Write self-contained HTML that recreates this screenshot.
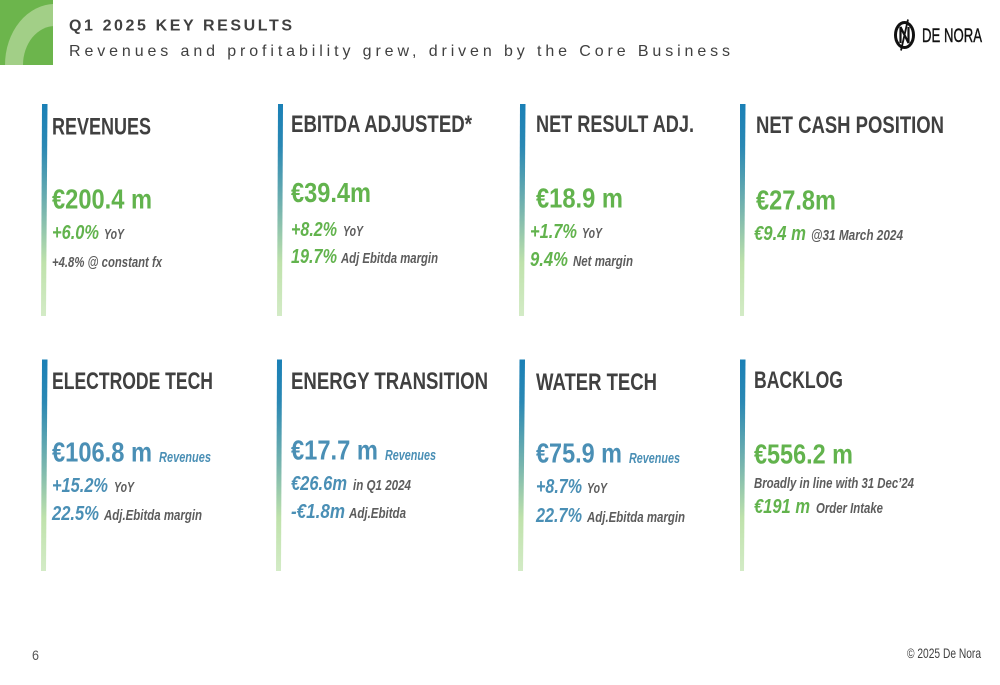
<!DOCTYPE html>
<html lang="en">
<head>
<meta charset="utf-8">
<title>Q1 2025 Key Results</title>
<style>
html,body{margin:0;padding:0;background:#fff;width:1000px;height:685px;overflow:hidden}
svg{display:block}
text{font-family:"Liberation Sans",sans-serif}
.h{font-size:24px;font-weight:700;fill:#404040}
.g{font-size:28px;font-weight:700;fill:#62b34d;transform:translateY(-0.5px)}
.b{font-size:28px;font-weight:700;fill:#4a8fb5;transform:translateY(-0.5px)}
.gi{font-size:20.5px;font-weight:700;font-style:italic;fill:#62b34d}
.bi{font-size:20.5px;font-weight:700;font-style:italic;fill:#4a8fb5}
.s{font-size:15px;font-weight:700;font-style:italic;fill:#5c5c5c}
.r{font-size:15px;font-weight:700;font-style:italic;fill:#4a8fb5}
</style>
</head>
<body>
<svg xmlns="http://www.w3.org/2000/svg" width="1000" height="685" viewBox="0 0 1000 685">
<defs>
<linearGradient id="barGrad" x1="0" y1="0" x2="0" y2="1">
<stop offset="0" stop-color="#1a80b6"/>
<stop offset="0.2" stop-color="#2a88b4"/>
<stop offset="0.5" stop-color="#78b5ae"/>
<stop offset="0.75" stop-color="#bfe2ab"/>
<stop offset="1" stop-color="#d3ebc6"/>
</linearGradient>
<clipPath id="cornerClip"><rect x="0" y="0" width="53" height="65"/></clipPath>
</defs>
<rect x="0" y="0" width="1000" height="685" fill="#ffffff"/>

<g clip-path="url(#cornerClip)">
<rect x="0" y="0" width="53" height="65" fill="#6cb54c"/>
<ellipse cx="55" cy="65" rx="50" ry="61" fill="#a2cf87"/>
<ellipse cx="55" cy="65" rx="32" ry="39" fill="#6cb54c"/>
</g>

<text x="69" y="30.5" font-size="16" font-weight="700" fill="#404040" textLength="223" lengthAdjust="spacing">Q1 2025 KEY RESULTS</text>
<text x="69" y="56" font-size="16" fill="#404040" textLength="661" lengthAdjust="spacing">Revenues and profitability grew, driven by the Core Business</text>

<g>
<ellipse cx="904.5" cy="35" rx="9" ry="12.5" fill="none" stroke="#111" stroke-width="3"/>
<path d="M900.5 43V27L908.5 43V27" fill="none" stroke="#111" stroke-width="2.2"/>
<path d="M908 19.5L901 50.5" fill="none" stroke="#111" stroke-width="1.8"/>
<text x="922" y="42" font-size="19" fill="#111" stroke="#111" stroke-width="0.4" textLength="60" lengthAdjust="spacingAndGlyphs">DE NORA</text>
</g>

<g>
<polygon points="42,104 47.5,104 46,316 41,316" fill="url(#barGrad)"/>
<text class="h" x="52" y="134.5" textLength="99" lengthAdjust="spacingAndGlyphs">REVENUES</text>
<text class="g" x="52" y="209" textLength="100" lengthAdjust="spacingAndGlyphs">€200.4 m</text>
<text class="gi" x="52" y="239" textLength="47" lengthAdjust="spacingAndGlyphs">+6.0%</text>
<text class="s" x="104" y="239" textLength="20" lengthAdjust="spacingAndGlyphs">YoY</text>
<text class="s" x="52" y="267" textLength="110" lengthAdjust="spacingAndGlyphs">+4.8% @ constant fx</text>
</g>

<g>
<polygon points="278,104 283,104 282,316 277,316" fill="url(#barGrad)"/>
<text class="h" x="291" y="132" textLength="181" lengthAdjust="spacingAndGlyphs">EBITDA ADJUSTED*</text>
<text class="g" x="291" y="202.5" textLength="80" lengthAdjust="spacingAndGlyphs">€39.4m</text>
<text class="gi" x="291" y="236" textLength="46" lengthAdjust="spacingAndGlyphs">+8.2%</text>
<text class="s" x="343" y="236" textLength="20" lengthAdjust="spacingAndGlyphs">YoY</text>
<text class="gi" x="291" y="263" textLength="46" lengthAdjust="spacingAndGlyphs">19.7%</text>
<text class="s" x="341" y="263" textLength="97" lengthAdjust="spacingAndGlyphs">Adj Ebitda margin</text>
</g>

<g>
<polygon points="520,104 525.5,104 524,316 519,316" fill="url(#barGrad)"/>
<text class="h" x="536" y="132" textLength="158" lengthAdjust="spacingAndGlyphs">NET RESULT ADJ.</text>
<text class="g" x="536" y="208" textLength="87" lengthAdjust="spacingAndGlyphs">€18.9 m</text>
<text class="gi" x="530" y="238" textLength="47" lengthAdjust="spacingAndGlyphs">+1.7%</text>
<text class="s" x="582" y="238" textLength="20" lengthAdjust="spacingAndGlyphs">YoY</text>
<text class="gi" x="530" y="266" textLength="38" lengthAdjust="spacingAndGlyphs">9.4%</text>
<text class="s" x="573" y="266" textLength="60" lengthAdjust="spacingAndGlyphs">Net margin</text>
</g>

<g>
<polygon points="740,104 745.5,104 744,316 740,316" fill="url(#barGrad)"/>
<text class="h" x="756" y="133" textLength="188" lengthAdjust="spacingAndGlyphs">NET CASH POSITION</text>
<text class="g" x="756" y="210" textLength="80" lengthAdjust="spacingAndGlyphs">€27.8m</text>
<text class="gi" x="754" y="240" textLength="52" lengthAdjust="spacingAndGlyphs">€9.4 m</text>
<text class="s" x="811" y="240" textLength="92" lengthAdjust="spacingAndGlyphs">@31 March 2024</text>
</g>

<g>
<polygon points="42,359.5 47.5,359.5 46,571 41,571" fill="url(#barGrad)"/>
<text class="h" x="52" y="389" textLength="161" lengthAdjust="spacingAndGlyphs">ELECTRODE TECH</text>
<text class="b" x="52" y="462" textLength="100" lengthAdjust="spacingAndGlyphs">€106.8 m</text>
<text class="r" x="159" y="462" textLength="52" lengthAdjust="spacingAndGlyphs">Revenues</text>
<text class="bi" x="52" y="492" textLength="56" lengthAdjust="spacingAndGlyphs">+15.2%</text>
<text class="s" x="114" y="492" textLength="20" lengthAdjust="spacingAndGlyphs">YoY</text>
<text class="bi" x="52" y="520" textLength="47" lengthAdjust="spacingAndGlyphs">22.5%</text>
<text class="s" x="104" y="520" textLength="98" lengthAdjust="spacingAndGlyphs">Adj.Ebitda margin</text>
</g>

<g>
<polygon points="277,359.5 282,359.5 281,571 276,571" fill="url(#barGrad)"/>
<text class="h" x="291" y="389" textLength="197" lengthAdjust="spacingAndGlyphs">ENERGY TRANSITION</text>
<text class="b" x="291" y="460" textLength="87" lengthAdjust="spacingAndGlyphs">€17.7 m</text>
<text class="r" x="385" y="460" textLength="51" lengthAdjust="spacingAndGlyphs">Revenues</text>
<text class="bi" x="291" y="490" textLength="56" lengthAdjust="spacingAndGlyphs">€26.6m</text>
<text class="s" x="353" y="490" textLength="58" lengthAdjust="spacingAndGlyphs">in Q1 2024</text>
<text class="bi" x="291" y="518" textLength="54" lengthAdjust="spacingAndGlyphs">-€1.8m</text>
<text class="s" x="349" y="518" textLength="57" lengthAdjust="spacingAndGlyphs">Adj.Ebitda</text>
</g>

<g>
<polygon points="519.5,359.5 525,359.5 523,571 518,571" fill="url(#barGrad)"/>
<text class="h" x="536" y="390" textLength="121" lengthAdjust="spacingAndGlyphs">WATER TECH</text>
<text class="b" x="536" y="463" textLength="86" lengthAdjust="spacingAndGlyphs">€75.9 m</text>
<text class="r" x="629" y="463" textLength="51" lengthAdjust="spacingAndGlyphs">Revenues</text>
<text class="bi" x="536" y="493" textLength="46" lengthAdjust="spacingAndGlyphs">+8.7%</text>
<text class="s" x="587" y="493" textLength="20" lengthAdjust="spacingAndGlyphs">YoY</text>
<text class="bi" x="536" y="522" textLength="46" lengthAdjust="spacingAndGlyphs">22.7%</text>
<text class="s" x="587" y="522" textLength="98" lengthAdjust="spacingAndGlyphs">Adj.Ebitda margin</text>
</g>

<g>
<polygon points="740,359.5 745.5,359.5 744,571 740,571" fill="url(#barGrad)"/>
<text class="h" x="754" y="388" textLength="89" lengthAdjust="spacingAndGlyphs">BACKLOG</text>
<text class="g" x="754" y="464" textLength="99" lengthAdjust="spacingAndGlyphs">€556.2 m</text>
<text class="s" x="754" y="488" textLength="160" lengthAdjust="spacingAndGlyphs">Broadly in line with 31 Dec’24</text>
<text class="gi" x="754" y="513" textLength="56" lengthAdjust="spacingAndGlyphs">€191 m</text>
<text class="s" x="816" y="513" textLength="67" lengthAdjust="spacingAndGlyphs">Order Intake</text>
</g>

<text x="32" y="660" font-size="14" fill="#555" textLength="7" lengthAdjust="spacingAndGlyphs">6</text>
<text x="907" y="658" font-size="14" fill="#404040" textLength="74" lengthAdjust="spacingAndGlyphs">© 2025 De Nora</text>
</svg>
</body>
</html>
